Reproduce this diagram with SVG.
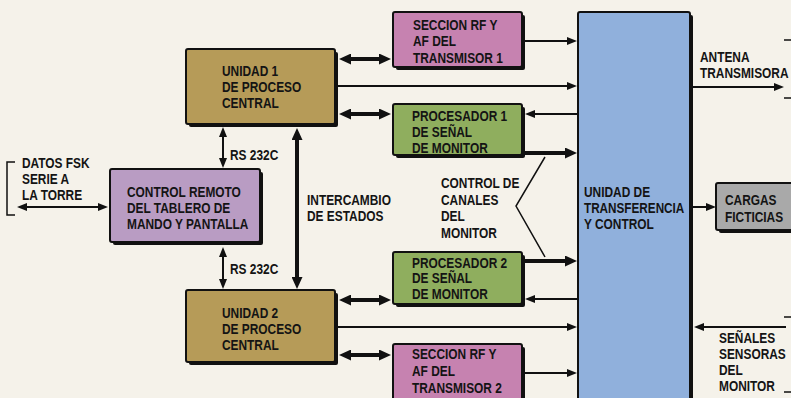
<svg xmlns="http://www.w3.org/2000/svg" width="791" height="398" viewBox="0 0 791 398">
<defs>
<style>
text{font-family:"Liberation Sans",Arial,sans-serif;font-weight:bold;font-size:14px;fill:#141414}
.sh{fill:#111}
.bx{stroke:#111;stroke-width:2}
.u{fill:#b69b58}
.cr{fill:#b99cc3}
.rf{fill:#c682b0}
.pr{fill:#8fae5e}
.tr{fill:#90b0dc}
.cg{fill:#a9a9a9}
.thin{stroke:#111;stroke-width:2;fill:none}
.thick{stroke:#111;stroke-width:4;fill:none}
.ln{stroke:#111;stroke-width:1.5;fill:none}
</style>
<marker id="a" markerUnits="userSpaceOnUse" markerWidth="10" markerHeight="8" refX="2" refY="4" orient="auto-start-reverse"><path d="M0,0 L10,4 L0,8 z" fill="#111"/></marker>
<marker id="b" markerUnits="userSpaceOnUse" markerWidth="12" markerHeight="11" refX="2" refY="5.5" orient="auto-start-reverse"><path d="M0,0 L12,5.5 L0,11 z" fill="#111"/></marker>
</defs>
<rect width="791" height="398" fill="#f5f2ea"/>

<g id="connectors">
<line class="thick" x1="349" y1="59" x2="381" y2="59" marker-start="url(#b)" marker-end="url(#b)"/>
<line class="thick" x1="349" y1="114" x2="381" y2="114" marker-start="url(#b)" marker-end="url(#b)"/>
<line class="thick" x1="349" y1="300" x2="381" y2="300" marker-start="url(#b)" marker-end="url(#b)"/>
<line class="thick" x1="349" y1="355" x2="381" y2="355" marker-start="url(#b)" marker-end="url(#b)"/>
<line class="thick" x1="297" y1="138" x2="297" y2="279" marker-start="url(#b)" marker-end="url(#b)"/>
<line class="thin" x1="223" y1="135" x2="223" y2="160" marker-start="url(#a)" marker-end="url(#a)"/>
<line class="thin" x1="223" y1="255" x2="223" y2="281" marker-start="url(#a)" marker-end="url(#a)"/>
<line class="thin" x1="25" y1="207" x2="100" y2="207" marker-start="url(#a)" marker-end="url(#a)"/>
<line class="thin" x1="336" y1="86" x2="569" y2="86" marker-end="url(#a)"/>
<line class="thin" x1="523" y1="41" x2="569" y2="41" marker-end="url(#a)"/>
<line class="thin" x1="578" y1="114" x2="533" y2="114" marker-end="url(#a)"/>
<line class="thin" x1="578" y1="299" x2="533" y2="299" marker-end="url(#a)"/>
<line class="thin" x1="336" y1="327" x2="569" y2="327" marker-end="url(#a)"/>
<line class="thin" x1="523" y1="373" x2="569" y2="373" marker-end="url(#a)"/>
<line class="thin" x1="692" y1="87" x2="776" y2="87" marker-end="url(#a)"/>
<line class="thin" x1="692" y1="207" x2="708" y2="207" marker-end="url(#a)"/>
<line class="thin" x1="786" y1="327" x2="702" y2="327" marker-end="url(#a)"/>
<line class="thick" x1="523" y1="153" x2="567" y2="153" marker-end="url(#b)"/>
<line class="thick" x1="523" y1="261" x2="567" y2="261" marker-end="url(#b)"/>
<path class="ln" d="M545,157 L516,206 L545,257"/>
<path class="ln" d="M15,162 H7 V215 H15"/>
<path class="ln" d="M784,40 H791 M784,98 H791 M784,317 H791 M784,392 H791"/>
</g>

<g id="unidad1">
<rect class="sh" x="189" y="52" width="149" height="75" rx="2"/>
<rect class="bx u" x="186" y="49" width="149" height="75" rx="2"/>
<g transform="scale(0.85 1)">
<text x="261.18" y="76">UNIDAD 1</text>
<text x="261.18" y="92">DE PROCESO</text>
<text x="261.18" y="108">CENTRAL</text>
</g>
</g>

<g id="unidad2">
<rect class="sh" x="189" y="293" width="149" height="72" rx="2"/>
<rect class="bx u" x="186" y="290" width="149" height="72" rx="2"/>
<g transform="scale(0.85 1)">
<text x="261.18" y="318">UNIDAD 2</text>
<text x="261.18" y="334">DE PROCESO</text>
<text x="261.18" y="350">CENTRAL</text>
</g>
</g>

<g id="control-remoto">
<rect class="sh" x="113" y="172" width="150" height="73" rx="2"/>
<rect class="bx cr" x="110" y="169" width="150" height="73" rx="2"/>
<g transform="scale(0.85 1)">
<text x="149.41" y="197">CONTROL REMOTO</text>
<text x="149.41" y="213">DEL TABLERO DE</text>
<text x="149.41" y="229">MANDO Y PANTALLA</text>
</g>
</g>

<g id="seccion-rf1">
<rect class="sh" x="396" y="15" width="129" height="55" rx="2"/>
<rect class="bx rf" x="393" y="12" width="129" height="55" rx="2"/>
<g transform="scale(0.85 1)">
<text x="485.88" y="30">SECCION RF Y</text>
<text x="485.88" y="46.5">AF DEL</text>
<text x="485.88" y="63">TRANSMISOR 1</text>
</g>
</g>

<g id="procesador1">
<rect class="sh" x="396" y="107" width="129" height="51" rx="2"/>
<rect class="bx pr" x="393" y="104" width="129" height="51" rx="2"/>
<g transform="scale(0.85 1)">
<text x="484.71" y="121">PROCESADOR 1</text>
<text x="484.71" y="137">DE SEÑAL</text>
<text x="484.71" y="153">DE MONITOR</text>
</g>
</g>

<g id="procesador2">
<rect class="sh" x="396" y="255" width="129" height="52" rx="2"/>
<rect class="bx pr" x="393" y="252" width="129" height="52" rx="2"/>
<g transform="scale(0.85 1)">
<text x="484.71" y="268">PROCESADOR 2</text>
<text x="484.71" y="283.5">DE SEÑAL</text>
<text x="484.71" y="299">DE MONITOR</text>
</g>
</g>

<g id="seccion-rf2">
<rect class="sh" x="396" y="347" width="129" height="60" rx="2"/>
<rect class="bx rf" x="393" y="344" width="129" height="60" rx="2"/>
<g transform="scale(0.85 1)">
<text x="484.71" y="359">SECCION RF Y</text>
<text x="484.71" y="376">AF DEL</text>
<text x="484.71" y="393">TRANSMISOR 2</text>
</g>
</g>

<g id="transferencia">
<rect class="sh" x="581" y="15" width="112" height="400" rx="2"/>
<rect class="bx tr" x="578" y="12" width="112" height="400" rx="2"/>
<g transform="scale(0.85 1)">
<text x="687.06" y="197">UNIDAD DE</text>
<text x="687.06" y="213" textLength="118" lengthAdjust="spacingAndGlyphs">TRANSFERENCIA</text>
<text x="687.06" y="229">Y CONTROL</text>
</g>
</g>

<g id="cargas">
<rect class="sh" x="719" y="186" width="80" height="47" rx="2"/>
<rect class="bx cg" x="716" y="183" width="80" height="47" rx="2"/>
<g transform="scale(0.85 1)">
<text x="852.94" y="205">CARGAS</text>
<text x="852.94" y="222">FICTICIAS</text>
</g>
</g>

<g id="labels" transform="scale(0.85 1)">
<text x="25.88" y="168">DATOS FSK</text>
<text x="25.88" y="184">SERIE A</text>
<text x="25.88" y="200">LA TORRE</text>
<text x="270.59" y="160">RS 232C</text>
<text x="270.59" y="274">RS 232C</text>
<text x="361.18" y="205">INTERCAMBIO</text>
<text x="361.18" y="221">DE ESTADOS</text>
<text x="518.82" y="188">CONTROL DE</text>
<text x="518.82" y="205">CANALES</text>
<text x="518.82" y="221">DEL</text>
<text x="518.82" y="238">MONITOR</text>
<text x="823.53" y="62">ANTENA</text>
<text x="823.53" y="78">TRANSMISORA</text>
<text x="845.88" y="343">SEÑALES</text>
<text x="845.88" y="359">SENSORAS</text>
<text x="845.88" y="375">DEL</text>
<text x="845.88" y="391">MONITOR</text>
</g>
</svg>
